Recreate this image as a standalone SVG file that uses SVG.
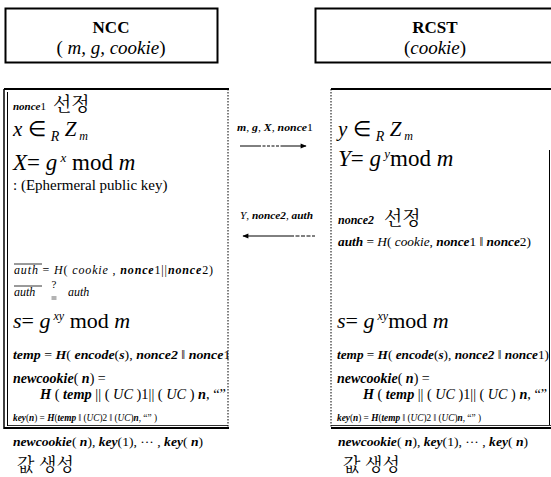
<svg xmlns="http://www.w3.org/2000/svg" width="551" height="477" viewBox="0 0 551 477">
<defs>
<style>
text{font-family:"Liberation Serif",serif;fill:#000}
.k{font-family:"Noto Serif CJK KR","Noto Sans CJK KR",serif}
.i{font-style:italic}
.bi{font-style:italic;font-weight:bold}
.n{font-style:normal;font-weight:normal}
.w{font-weight:normal}
.b{font-weight:bold}
.ln{stroke:#000;fill:none}
.dot{stroke:#000;stroke-dasharray:1.5 1.5;fill:none}
</style>
<marker id="ah" viewBox="0 0 10 10" refX="9" refY="5" markerWidth="8" markerHeight="6" orient="auto-start-reverse" markerUnits="userSpaceOnUse">
<path d="M0,1 L10,5 L0,9 Z" fill="#000"/>
</marker>
<clipPath id="clipL"><rect x="0" y="0" width="229" height="477"/></clipPath>
</defs>
<rect width="551" height="477" fill="#fff"/>

<g id="ncc-header">
<rect x="5.5" y="8.5" width="212" height="54" class="ln" stroke-width="2"/>
<text x="111" y="33" font-size="17" class="b" text-anchor="middle">NCC</text>
<text x="111" y="54" font-size="19" text-anchor="middle">(<tspan class="i"> m, g, cookie</tspan>)</text>
</g>

<g id="rcst-header">
<rect x="315.5" y="8.5" width="240" height="54" class="ln" stroke-width="2"/>
<text x="435" y="33" font-size="17" class="b" text-anchor="middle">RCST</text>
<text x="435" y="54" font-size="19" text-anchor="middle">(<tspan class="i">cookie</tspan>)</text>
</g>

<g id="ncc-process">
<line x1="4" y1="89" x2="229" y2="89" class="ln" stroke-width="2"/>
<line x1="4" y1="89" x2="4" y2="429" class="ln" stroke-width="1.5"/>
<line x1="7.5" y1="92" x2="7.5" y2="426" class="ln" stroke-width="1"/>
<line x1="228" y1="89" x2="228" y2="428" class="dot" stroke-width="1"/>
<line x1="4" y1="428" x2="229" y2="428" class="ln" stroke-width="2"/>
<line x1="7.5" y1="425.5" x2="228" y2="425.5" class="ln" stroke-width="0.8"/>
<g clip-path="url(#clipL)">
<text x="13" y="110" class="bi" font-size="11">nonce<tspan class="n">1</tspan></text>
<text x="53" y="111" class="k" font-size="19">선정</text>
<text x="13" y="136" class="i" font-size="21">x <tspan class="n">∈</tspan>  <tspan font-size="14" dy="5">R</tspan><tspan dy="-5"> Z</tspan><tspan font-size="12" dy="4">  m</tspan></text>
<text x="13" y="170" font-size="23"><tspan class="i">X</tspan>= <tspan class="i">g</tspan><tspan class="i" font-size="13" dy="-8"> x</tspan><tspan dy="8"> mod</tspan><tspan class="i"> m</tspan></text>
<text x="13" y="190" font-size="15">: (Ephermeral  public  key)</text>
<line x1="14" y1="264" x2="42" y2="264" class="ln" stroke-width="0.8"/>
<text x="14" y="274" class="i" font-size="12" textLength="199" lengthAdjust="spacing">auth <tspan class="n">= </tspan>H<tspan class="n">( </tspan>cookie<tspan class="n"> , </tspan><tspan class="b">nonce</tspan><tspan class="n">1||</tspan><tspan class="b">nonce</tspan><tspan class="n">2)</tspan></text>
<line x1="14" y1="286" x2="42" y2="286" class="ln" stroke-width="0.8"/>
<text x="14" y="296" class="i" font-size="12">auth</text>
<text x="54" y="288" font-size="11" text-anchor="middle">?</text>
<line x1="51.5" y1="297" x2="56.5" y2="297" class="ln" stroke-width="0.6"/>
<line x1="51.5" y1="299" x2="56.5" y2="299" class="ln" stroke-width="0.6"/>
<text x="68" y="296" class="i" font-size="12">auth</text>
<text x="13" y="328" font-size="22"><tspan class="i">s</tspan>= <tspan class="i">g</tspan><tspan class="i" font-size="12" dy="-8"> xy</tspan><tspan dy="8"> mod</tspan><tspan class="i"> m</tspan></text>
<text x="13" y="359" class="bi" font-size="13" textLength="222" lengthAdjust="spacingAndGlyphs">temp<tspan class="n"> = </tspan>H<tspan class="n">( </tspan>encode<tspan class="n">(</tspan>s<tspan class="n">), </tspan>nonce2<tspan class="n"> ‖ </tspan>nonce<tspan class="n">1)</tspan></text>
<text x="13" y="383" class="bi" font-size="14">newcookie<tspan class="n">( </tspan>n<tspan class="n">) =</tspan></text>
<text x="40" y="399" class="bi" font-size="14" textLength="186" lengthAdjust="spacingAndGlyphs">H<tspan class="n"> ( </tspan>temp<tspan class="n"> || ( </tspan><tspan class="w">UC</tspan><tspan class="n"> )1|| ( </tspan><tspan class="w">UC</tspan><tspan class="n"> ) </tspan>n<tspan class="n">,  “”</tspan></text>
<text x="13" y="421" class="bi" font-size="9.3">key<tspan class="n">(</tspan>n<tspan class="n">) = </tspan>H<tspan class="n">(</tspan>temp<tspan class="n"> ‖ (</tspan><tspan class="w">UC</tspan><tspan class="n">)2 ‖ (</tspan><tspan class="w">UC</tspan><tspan class="n">)</tspan>n<tspan class="n">,  “” )</tspan></text>
</g>
</g>

<g id="ncc-result">
<text x="13" y="446" class="bi" font-size="12.5" textLength="190" lengthAdjust="spacingAndGlyphs">newcookie<tspan class="n">( </tspan>n<tspan class="n">), </tspan>key<tspan class="n">(1), ··· , </tspan>key<tspan class="n">( </tspan>n<tspan class="n">)</tspan></text>
<text x="17" y="471" class="k" font-size="18">값 생성</text>
</g>

<g id="rcst-process">
<line x1="331" y1="89" x2="551" y2="89" class="ln" stroke-width="2"/>
<line x1="331" y1="428" x2="551" y2="428" class="ln" stroke-width="2"/>
<line x1="331" y1="425.5" x2="551" y2="425.5" class="ln" stroke-width="0.8"/>
<line x1="331" y1="89" x2="331" y2="428" class="dot" stroke-width="1"/>
<line x1="549.5" y1="150" x2="549.5" y2="425" class="ln" stroke-width="1"/>
<text x="338" y="136" class="i" font-size="21">y <tspan class="n">∈</tspan>  <tspan font-size="14" dy="5">R</tspan><tspan dy="-5"> Z</tspan><tspan font-size="12" dy="4">  m</tspan></text>
<text x="338" y="166" font-size="23"><tspan class="i">Y</tspan>=  <tspan class="i">g</tspan><tspan class="i" font-size="13" dy="-8"> y</tspan><tspan dy="8">mod</tspan><tspan class="i"> m</tspan></text>
<text x="338" y="224" class="bi" font-size="12">nonce2</text>
<text x="384" y="225" class="k" font-size="19">선정</text>
<text x="338" y="246" class="i" font-size="11.5" textLength="193" lengthAdjust="spacingAndGlyphs"><tspan class="b">auth</tspan><tspan class="n"> = </tspan>H<tspan class="n">( </tspan>cookie<tspan class="n">, </tspan><tspan class="b">nonce</tspan><tspan class="n">1 ‖ </tspan><tspan class="b">nonce</tspan><tspan class="n">2)</tspan></text>
<text x="337" y="328" font-size="22"><tspan class="i">s</tspan>= <tspan class="i">g</tspan><tspan class="i" font-size="12" dy="-8"> xy</tspan><tspan dy="8">mod</tspan><tspan class="i"> m</tspan></text>
<text x="337" y="359" class="bi" font-size="13" textLength="212" lengthAdjust="spacingAndGlyphs">temp<tspan class="n"> = </tspan>H<tspan class="n">( </tspan>encode<tspan class="n">(</tspan>s<tspan class="n">), </tspan>nonce2<tspan class="n"> ‖ </tspan>nonce<tspan class="n">1)</tspan></text>
<text x="337" y="383" class="bi" font-size="14">newcookie<tspan class="n">( </tspan>n<tspan class="n">) =</tspan></text>
<text x="363" y="399" class="bi" font-size="14" textLength="184" lengthAdjust="spacingAndGlyphs">H<tspan class="n"> ( </tspan>temp<tspan class="n"> || ( </tspan><tspan class="w">UC</tspan><tspan class="n"> )1|| ( </tspan><tspan class="w">UC</tspan><tspan class="n"> ) </tspan>n<tspan class="n">,  “”</tspan></text>
<text x="337" y="421" class="bi" font-size="9.3">key<tspan class="n">(</tspan>n<tspan class="n">) = </tspan>H<tspan class="n">(</tspan>temp<tspan class="n"> ‖ (</tspan><tspan class="w">UC</tspan><tspan class="n">)2 ‖ (</tspan><tspan class="w">UC</tspan><tspan class="n">)</tspan>n<tspan class="n">,  “” )</tspan></text>
</g>

<g id="rcst-result">
<text x="338" y="446" class="bi" font-size="12.5" textLength="190" lengthAdjust="spacingAndGlyphs">newcookie<tspan class="n">( </tspan>n<tspan class="n">), </tspan>key<tspan class="n">(1), ··· , </tspan>key<tspan class="n">( </tspan>n<tspan class="n">)</tspan></text>
<text x="343" y="471" class="k" font-size="18">값 생성</text>
</g>

<g id="connectors">
<text x="237" y="131" class="bi" font-size="10" textLength="76" lengthAdjust="spacingAndGlyphs">m<tspan class="n">, </tspan>g<tspan class="n">, </tspan>X<tspan class="n">, </tspan>nonce<tspan class="n">1</tspan></text>
<path d="M240,146 H258" class="ln" stroke-width="1"/>
<path d="M258,146 H281" class="ln" stroke-width="1" stroke-dasharray="3 1.5"/>
<path d="M281,146 H306" class="ln" stroke-width="1" marker-end="url(#ah)"/>
<text x="240" y="219" class="bi" font-size="10" textLength="73" lengthAdjust="spacingAndGlyphs"><tspan class="w">Y</tspan><tspan class="n">, </tspan>nonce2<tspan class="n">, </tspan>auth</text>
<path d="M290,236 H315" class="ln" stroke-width="1" stroke-dasharray="4 1.5"/>
<path d="M290,236 H243" class="ln" stroke-width="1" marker-end="url(#ah)"/>
</g>
</svg>
